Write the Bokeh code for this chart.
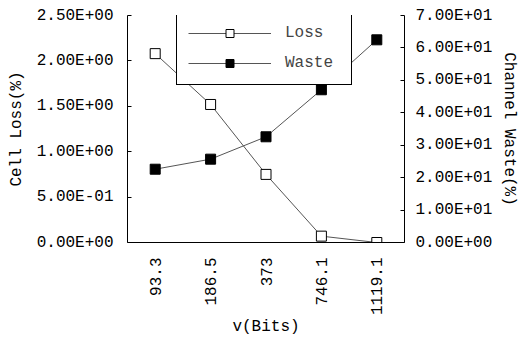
import math
from bokeh.plotting import figure
from bokeh.models import (LinearAxis, Range1d, FixedTicker, Legend, LegendItem,
                          FactorRange)
from bokeh.embed import file_html
from bokeh.resources import INLINE

# ---- data ----
x_labels = ["93.3", "186.5", "373", "746.1", "1119.1"]
loss = [2.08, 1.52, 0.75, 0.07, 0.0]
waste = [22.6, 25.7, 32.6, 47.1, 62.5]

loss_ticks = [0.0, 0.5, 1.0, 1.5, 2.0, 2.5]
loss_tick_labels = ["0.00E+00", "5.00E-01", "1.00E+00", "1.50E+00",
                    "2.00E+00", "2.50E+00"]
waste_ticks = [0.0, 10.0, 20.0, 30.0, 40.0, 50.0, 60.0, 70.0]
waste_tick_labels = ["0.00E+00", "1.00E+01", "2.00E+01", "3.00E+01",
                     "4.00E+01", "5.00E+01", "6.00E+01", "7.00E+01"]

FONT = "Liberation Mono"

p = figure(x_range=FactorRange(*x_labels), y_range=Range1d(0, 2.5),
           width=521, height=345, output_backend="svg", toolbar_location=None,
           min_border_left=127, min_border_right=115, min_border_top=15,
           min_border_bottom=103)
p.extra_y_ranges = {"waste": Range1d(0, 70)}
p.outline_line_color = None
p.xgrid.visible = False
p.ygrid.visible = False
p.background_fill_color = "white"

def style_axis(ax):
    ax.axis_line_color = "black"
    ax.axis_line_width = 1
    ax.major_tick_in = 4
    ax.major_tick_out = 0
    ax.major_tick_line_color = "black"
    ax.minor_tick_line_color = None
    ax.major_label_text_font = FONT
    ax.major_label_text_font_size = "16px"
    ax.major_label_text_color = "black"
    ax.axis_label_text_font = FONT
    ax.axis_label_text_font_style = "normal"
    ax.axis_label_text_font_size = "16px"
    ax.axis_label_text_color = "black"

# left axis
ly = p.left[0]
style_axis(ly)
ly.ticker = FixedTicker(ticks=loss_ticks)
ly.major_label_overrides = dict(zip(loss_ticks, loss_tick_labels))
ly.major_label_standoff = 14
ly.axis_label = "Cell Loss(%)"
ly.axis_label_standoff = 8

# bottom axis
bx = p.below[0]
style_axis(bx)
bx.major_tick_line_color = None
bx.major_label_orientation = math.pi / 2
bx.major_label_standoff = 15
bx.axis_label = "v(Bits)"
bx.axis_label_standoff = 0

# right axis
ry = LinearAxis(y_range_name="waste", ticker=FixedTicker(ticks=waste_ticks))
style_axis(ry)
ry.major_label_overrides = dict(zip(waste_ticks, waste_tick_labels))
ry.major_label_standoff = 11
ry.axis_label = "Channel Waste(%)"
ry.axis_label_standoff = 5
p.add_layout(ry, "right")

# series
loss_line = p.line(x_labels, loss, line_color="#555555", line_width=1)
waste_line = p.line(x_labels, waste, y_range_name="waste",
                    line_color="#555555", line_width=1)
loss_pts = p.scatter(x_labels, loss, marker="square", size=10,
                     fill_color="white", line_color="black", line_width=1)
waste_pts = p.scatter(x_labels, waste, y_range_name="waste", marker="square",
                      size=10, fill_color="black", line_color="black")

legend = Legend(items=[LegendItem(label="Loss", renderers=[loss_line, loss_pts]),
                       LegendItem(label="Waste", renderers=[waste_line, waste_pts])],
                location=(49, 157))
legend.border_line_color = "black"
legend.border_line_width = 1
legend.border_line_alpha = 1
legend.background_fill_color = "white"
legend.background_fill_alpha = 1
legend.glyph_width = 83
legend.glyph_height = 20
legend.label_standoff = 14
legend.label_width = 55
legend.padding = 11
legend.spacing = 10
legend.margin = 0
legend.label_text_font = FONT
legend.label_text_font_size = "16px"
p.add_layout(legend, "center")

open("out.html", "w").write(file_html(p, INLINE))
